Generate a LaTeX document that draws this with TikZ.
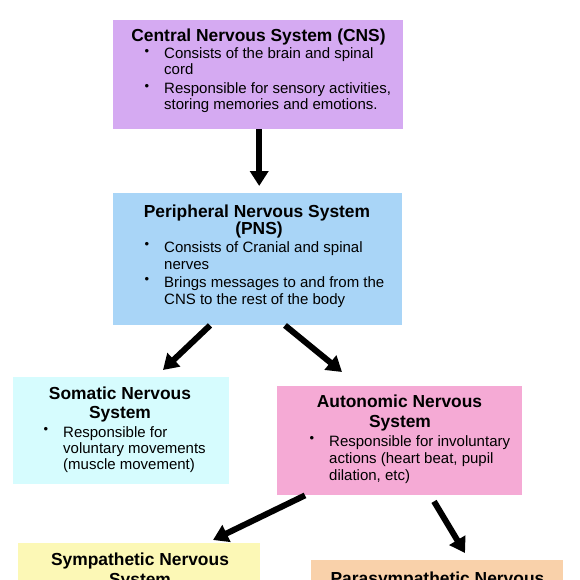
\documentclass[tikz,border=0pt]{standalone}
\usepackage{fontspec}
\setmainfont{Liberation Sans}
\usetikzlibrary{arrows.meta}
\definecolor{cnsc}{HTML}{D5AAF2}
\definecolor{pnsc}{HTML}{A9D5F7}
\definecolor{somc}{HTML}{D6FCFE}
\definecolor{autc}{HTML}{F5AAD5}
\definecolor{symc}{HTML}{FCF8B6}
\definecolor{parc}{HTML}{F9D1AA}
\newcommand{\bul}{\llap{\raisebox{3.5pt}{\fontsize{13}{13}\selectfont\textbullet}\hspace{15pt}}}
\tikzset{
  box/.style={draw=none, fill=#1, anchor=north west, inner sep=0pt},
  ttl/.style={anchor=base, inner sep=0pt, font=\fontsize{17.4}{20}\selectfont\bfseries},
  bod/.style={anchor=base west, inner sep=0pt, font=\fontsize{15}{17}\selectfont},
  arr/.style={line width=6pt, -{Triangle[width=18pt,length=15pt]}},
}
\begin{document}
\begin{tikzpicture}[x=1pt,y=-1pt]
\useasboundingbox (0,0) rectangle (579,580);
\fill[white] (0,0) rectangle (579,580);
\clip (0,0) rectangle (579,580);
% boxes
\node[box=cnsc, minimum width=290pt, minimum height=109pt] (cns) at (113,20) {};
\node[box=pnsc, minimum width=289pt, minimum height=132pt] (pns) at (113,193) {};
\node[box=somc, minimum width=216pt, minimum height=107pt] (som) at (13,377) {};
\node[box=autc, minimum width=245pt, minimum height=109pt] (aut) at (277,386) {};
\node[box=symc, minimum width=242pt, minimum height=110pt] (sym) at (18,543) {};
\node[box=parc, minimum width=252pt, minimum height=110pt] (par) at (311,560) {};
% CNS text
\node[ttl] (cnsT) at (258.5,42) {Central Nervous System (CNS)};
\node[bod] (cns1) at (164,59) {\bul Consists of the brain and spinal};
\node[bod] (cns2) at (164,75) {cord};
\node[bod] (cns3) at (164,94) {\bul Responsible for sensory activities,};
\node[bod] (cns4) at (164,110) {storing memories and emotions.};
% PNS text
\node[ttl] (pnsT) at (257,217) {Peripheral Nervous System};
\node[ttl] (pnsT2) at (259,234) {(PNS)};
\node[bod] (pns1) at (164,252) {\bul Consists of Cranial and spinal};
\node[bod] (pns2) at (164,269) {nerves};
\node[bod] (pns3) at (164,287) {\bul Brings messages to and from the};
\node[bod] (pns4) at (164,304) {CNS to the rest of the body};
% Somatic text
\node[ttl] (somT) at (120,399) {Somatic Nervous};
\node[ttl] (somT2) at (120,418) {System};
\node[bod] (som1) at (63,437) {\bul Responsible for};
\node[bod] (som2) at (63,453) {voluntary movements};
\node[bod] (som3) at (63,469) {(muscle movement)};
% Autonomic text
\node[ttl] (autT) at (399.5,407) {Autonomic Nervous};
\node[ttl] (autT2) at (400,427) {System};
\node[bod] (aut1) at (329,446) {\bul Responsible for involuntary};
\node[bod] (aut2) at (329,463) {actions (heart beat, pupil};
\node[bod] (aut3) at (329,480) {dilation, etc)};
% Sympathetic / Parasympathetic text
\node[ttl] (symT) at (140,565) {Sympathetic Nervous};
\node[ttl] (symT2) at (140,585) {System};
\node[ttl] (parT) at (437.5,584) {Parasympathetic Nervous};
% arrows
\draw[arr] ([xshift=1pt]cns.south) -- ([xshift=1.5pt,yshift=7pt]pns.north);
\draw[arr] ([xshift=97pt]pns.south west) -- ([xshift=150pt,yshift=7pt]som.north west);
\draw[arr] ([xshift=172pt]pns.south west) -- ([xshift=65pt,yshift=14pt]aut.north west);
\draw[arr] ([xshift=28pt]aut.south west) -- ([xshift=195pt,yshift=3pt]sym.north west);
\draw[arr] ([xshift=157pt,yshift=-6pt]aut.south west) -- ([xshift=154pt,yshift=7pt]par.north west);
\end{tikzpicture}
\end{document}
